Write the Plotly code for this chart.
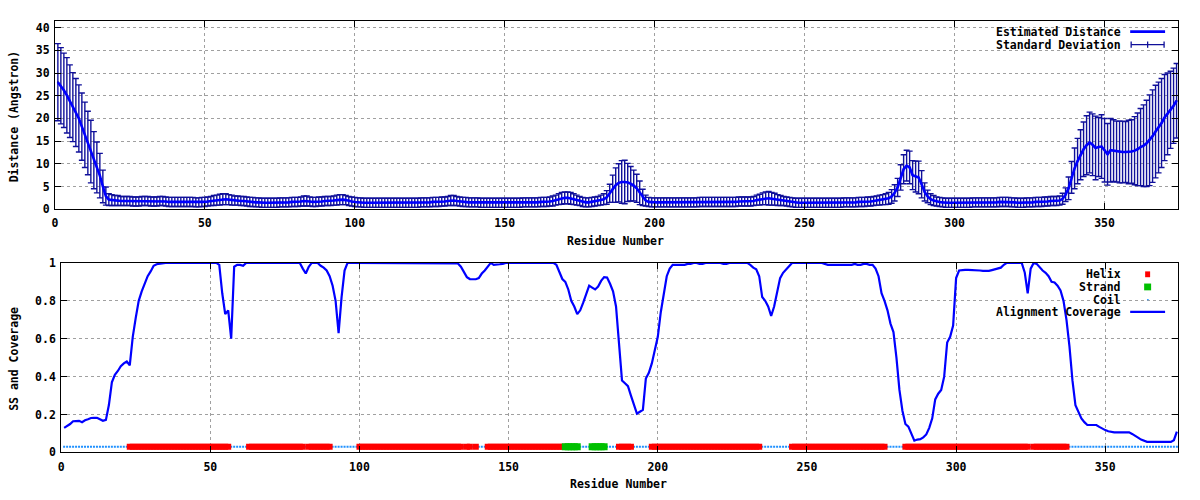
import plotly.graph_objects as go

# ---------------- data ----------------
residues = list(range(1, 375))

distance = [
    28.0, 27.2, 26.2, 25.1, 23.8, 22.5, 21.3, 20.0, 18.2, 16.4,
    14.6, 12.7, 10.8, 9.2, 7.4, 5.0, 2.9, 2.1, 2.0, 1.9,
    1.9, 1.8, 1.8, 1.8, 1.8, 1.7, 1.7, 1.7, 1.8, 1.8,
    1.8, 1.7, 1.7, 1.7, 1.8, 1.8, 1.7, 1.6, 1.6, 1.6,
    1.6, 1.6, 1.6, 1.6, 1.6, 1.6, 1.5, 1.5, 1.6, 1.6,
    1.7, 1.8, 1.9, 2.0, 2.1, 2.2, 2.2, 2.1, 2.0, 1.9,
    1.9, 1.8, 1.8, 1.7, 1.6, 1.6, 1.5, 1.5, 1.4, 1.4,
    1.4, 1.4, 1.4, 1.4, 1.5, 1.5, 1.5, 1.5, 1.6, 1.6,
    1.6, 1.7, 1.8, 1.8, 1.7, 1.6, 1.6, 1.7, 1.7, 1.8,
    1.8, 1.8, 1.9, 2.0, 2.1, 2.1, 2.0, 1.8, 1.7, 1.6,
    1.5, 1.5, 1.4, 1.4, 1.4, 1.4, 1.4, 1.4, 1.4, 1.4,
    1.4, 1.4, 1.4, 1.4, 1.4, 1.4, 1.4, 1.4, 1.4, 1.4,
    1.4, 1.5, 1.5, 1.5, 1.5, 1.6, 1.6, 1.6, 1.7, 1.7,
    1.8, 1.9, 1.9, 1.8, 1.7, 1.6, 1.6, 1.5, 1.5, 1.5,
    1.5, 1.4, 1.4, 1.4, 1.4, 1.4, 1.4, 1.4, 1.4, 1.4,
    1.4, 1.4, 1.4, 1.4, 1.4, 1.5, 1.5, 1.5, 1.5, 1.5,
    1.5, 1.6, 1.6, 1.6, 1.7, 1.8, 2.0, 2.2, 2.4, 2.5,
    2.5, 2.4, 2.2, 2.0, 1.8, 1.6, 1.5, 1.5, 1.6, 1.7,
    1.8, 2.0, 2.2, 2.6, 3.5, 4.5, 5.3, 5.8, 6.0, 6.0,
    5.9, 5.6, 5.2, 4.6, 3.6, 2.6, 1.9, 1.6, 1.5, 1.5,
    1.5, 1.5, 1.5, 1.5, 1.5, 1.5, 1.5, 1.5, 1.5, 1.5,
    1.5, 1.5, 1.5, 1.5, 1.6, 1.6, 1.6, 1.6, 1.6, 1.6,
    1.6, 1.6, 1.6, 1.6, 1.6, 1.6, 1.6, 1.7, 1.7, 1.7,
    1.7, 1.7, 1.8, 2.0, 2.1, 2.3, 2.4, 2.4, 2.3, 2.2,
    2.0, 1.9, 1.8, 1.7, 1.6, 1.5, 1.4, 1.4, 1.4, 1.4,
    1.4, 1.4, 1.4, 1.4, 1.4, 1.4, 1.4, 1.4, 1.4, 1.4,
    1.4, 1.4, 1.5, 1.5, 1.5, 1.5, 1.5, 1.6, 1.6, 1.6,
    1.7, 1.7, 1.8, 1.9, 2.0, 2.1, 2.2, 2.4, 2.8, 3.6,
    4.8, 7.0, 8.8, 9.6, 9.2, 7.5, 7.2, 7.0, 5.5, 3.8,
    2.8, 2.2, 1.9, 1.7, 1.6, 1.5, 1.4, 1.4, 1.4, 1.4,
    1.4, 1.4, 1.4, 1.4, 1.4, 1.5, 1.5, 1.5, 1.5, 1.5,
    1.5, 1.5, 1.5, 1.5, 1.6, 1.6, 1.6, 1.6, 1.5, 1.5,
    1.4, 1.4, 1.4, 1.5, 1.5, 1.5, 1.6, 1.6, 1.6, 1.7,
    1.7, 1.8, 1.8, 1.8, 1.9, 2.3, 3.2, 4.6, 7.0, 9.0,
    10.6, 12.0, 13.2, 14.1, 14.7, 14.2, 13.5, 13.7, 13.8, 13.0,
    12.1, 13.0, 12.9, 12.7, 12.6, 12.6, 12.6, 12.6, 12.7, 12.9,
    13.2, 13.7, 14.0, 14.5, 15.2, 16.1, 17.1, 18.0, 19.0, 20.2,
    21.0, 21.9, 22.8, 23.9,
]

std_dev = [
    8.5, 8.4, 8.2, 8.3, 8.0, 7.6, 7.5, 7.4, 7.4, 7.2,
    7.0, 6.9, 6.3, 5.6, 4.9, 3.6, 2.0, 1.3, 1.2, 1.1,
    1.1, 1.0, 1.0, 1.0, 1.0, 1.0, 1.0, 1.0, 1.0, 1.0,
    1.0, 1.0, 1.0, 1.0, 1.0, 1.0, 1.0, 1.0, 1.0, 1.0,
    1.0, 1.0, 1.0, 1.0, 1.0, 1.0, 1.0, 1.0, 1.0, 1.0,
    1.0, 1.0, 1.1, 1.1, 1.2, 1.2, 1.2, 1.1, 1.1, 1.0,
    1.0, 1.0, 1.0, 1.0, 1.0, 1.0, 1.0, 1.0, 1.0, 1.0,
    1.0, 1.0, 1.0, 1.0, 1.0, 1.0, 1.0, 1.0, 1.0, 1.0,
    1.0, 1.0, 1.1, 1.1, 1.0, 1.0, 1.0, 1.0, 1.0, 1.0,
    1.0, 1.0, 1.0, 1.1, 1.1, 1.1, 1.0, 1.0, 1.0, 1.0,
    1.0, 1.0, 1.0, 1.0, 1.0, 1.0, 1.0, 1.0, 1.0, 1.0,
    1.0, 1.0, 1.0, 1.0, 1.0, 1.0, 1.0, 1.0, 1.0, 1.0,
    1.0, 1.0, 1.0, 1.0, 1.0, 1.0, 1.0, 1.0, 1.0, 1.0,
    1.0, 1.1, 1.1, 1.0, 1.0, 1.0, 1.0, 1.0, 1.0, 1.0,
    1.0, 1.0, 1.0, 1.0, 1.0, 1.0, 1.0, 1.0, 1.0, 1.0,
    1.0, 1.0, 1.0, 1.0, 1.0, 1.0, 1.0, 1.0, 1.0, 1.0,
    1.0, 1.0, 1.0, 1.0, 1.0, 1.1, 1.1, 1.2, 1.3, 1.3,
    1.3, 1.3, 1.2, 1.1, 1.0, 1.0, 1.0, 1.0, 1.0, 1.0,
    1.0, 1.1, 1.2, 1.5, 2.0, 3.0, 3.8, 4.2, 4.7, 4.8,
    4.2, 3.8, 3.4, 3.1, 2.6, 1.8, 1.2, 1.0, 1.0, 1.0,
    1.0, 1.0, 1.0, 1.0, 1.0, 1.0, 1.0, 1.0, 1.0, 1.0,
    1.0, 1.0, 1.0, 1.0, 1.0, 1.0, 1.0, 1.0, 1.0, 1.0,
    1.0, 1.0, 1.0, 1.0, 1.0, 1.0, 1.0, 1.0, 1.0, 1.0,
    1.0, 1.0, 1.0, 1.1, 1.2, 1.3, 1.4, 1.5, 1.4, 1.3,
    1.2, 1.1, 1.0, 1.0, 1.0, 1.0, 1.0, 1.0, 1.0, 1.0,
    1.0, 1.0, 1.0, 1.0, 1.0, 1.0, 1.0, 1.0, 1.0, 1.0,
    1.0, 1.0, 1.0, 1.0, 1.0, 1.0, 1.0, 1.0, 1.0, 1.0,
    1.0, 1.0, 1.0, 1.0, 1.1, 1.1, 1.2, 1.3, 1.5, 1.8,
    2.0, 2.8, 3.2, 3.4, 3.6, 3.2, 3.4, 3.6, 3.0, 2.0,
    1.4, 1.2, 1.1, 1.0, 1.0, 1.0, 1.0, 1.0, 1.0, 1.0,
    1.0, 1.0, 1.0, 1.0, 1.0, 1.0, 1.0, 1.0, 1.0, 1.0,
    1.0, 1.0, 1.0, 1.0, 1.0, 1.0, 1.0, 1.0, 1.0, 1.0,
    1.0, 1.0, 1.0, 1.0, 1.0, 1.0, 1.0, 1.0, 1.0, 1.0,
    1.0, 1.0, 1.0, 1.0, 1.0, 1.2, 1.5, 2.5, 3.5, 4.5,
    5.0, 5.5, 6.0, 6.5, 6.7, 6.8, 7.0, 6.5, 7.0, 7.0,
    6.8, 7.0, 6.8, 6.7, 6.8, 6.8, 6.7, 7.0, 7.0, 7.5,
    8.0, 8.5, 9.0, 9.5, 10.0, 10.2, 10.2, 10.0, 9.8, 9.5,
    9.0, 8.5, 8.3, 8.2,
]

coverage = [
    0.13, 0.14, 0.15, 0.165, 0.167, 0.167, 0.16, 0.17, 0.175, 0.182,
    0.183, 0.183, 0.175, 0.167, 0.172, 0.25, 0.37, 0.41, 0.43, 0.455,
    0.47, 0.48, 0.46, 0.61, 0.71, 0.80, 0.85, 0.895, 0.93, 0.955,
    0.985, 0.993, 0.995, 1.0, 1.0, 1.0, 1.0, 1.0, 1.0, 1.0,
    1.0, 1.0, 1.0, 1.0, 1.0, 1.0, 1.0, 1.0, 1.0, 1.0,
    1.0, 1.0, 0.99, 0.84, 0.73, 0.75, 0.60, 0.98, 0.99, 0.99,
    0.985, 1.0, 1.0, 1.0, 1.0, 1.0, 1.0, 1.0, 1.0, 1.0,
    1.0, 1.0, 1.0, 1.0, 1.0, 1.0, 1.0, 1.0, 1.0, 1.0,
    0.97, 0.944, 0.98, 1.0, 1.0, 1.0, 0.985, 0.975, 0.96, 0.93,
    0.88, 0.80, 0.63, 0.82, 0.96, 1.0, 1.0, 1.0, 1.0, 1.0,
    1.0, 1.0, 1.0, 1.0, 1.0, 1.0, 1.0, 1.0, 1.0, 1.0,
    1.0, 1.0, 1.0, 1.0, 1.0, 1.0, 1.0, 1.0, 1.0, 1.0,
    1.0, 1.0, 1.0, 1.0, 1.0, 1.0, 1.0, 1.0, 1.0, 1.0,
    1.0, 1.0, 0.997, 0.98, 0.95, 0.925, 0.915, 0.914, 0.914, 0.92,
    0.944, 0.96, 0.98, 1.0, 0.99, 0.99, 0.993, 0.995, 1.0, 1.0,
    1.0, 1.0, 1.0, 1.0, 1.0, 1.0, 1.0, 1.0, 1.0, 1.0,
    1.0, 1.0, 1.0, 1.0, 1.0, 0.99, 0.95, 0.915, 0.90, 0.86,
    0.80, 0.77, 0.73, 0.75, 0.79, 0.83, 0.88, 0.87, 0.86, 0.875,
    0.905, 0.925, 0.923, 0.89, 0.85, 0.77, 0.58, 0.38, 0.365, 0.35,
    0.30, 0.25, 0.205, 0.215, 0.225, 0.39, 0.42, 0.47, 0.55, 0.61,
    0.74, 0.84, 0.93, 0.97, 0.99, 0.99, 0.99, 0.99, 0.99, 0.995,
    0.995, 1.0, 1.0, 0.995, 0.995, 1.0, 1.0, 1.0, 1.0, 1.0,
    1.0, 0.995, 0.995, 1.0, 1.0, 1.0, 1.0, 1.0, 1.0, 1.0,
    0.99, 0.975, 0.966, 0.93, 0.82, 0.80, 0.77, 0.72, 0.77, 0.85,
    0.92, 0.948, 0.966, 0.985, 1.0, 1.0, 1.0, 1.0, 1.0, 1.0,
    1.0, 1.0, 1.0, 1.0, 1.0, 0.995, 0.99, 0.99, 0.99, 0.99,
    0.99, 0.99, 0.99, 0.99, 0.99, 0.995, 0.99, 0.99, 0.995, 0.995,
    0.99, 0.99, 0.97, 0.93, 0.84, 0.80, 0.75, 0.68, 0.635, 0.50,
    0.33, 0.22, 0.15, 0.136, 0.10, 0.062, 0.068, 0.07, 0.08, 0.095,
    0.13, 0.18, 0.28, 0.31, 0.33, 0.40, 0.58, 0.61, 0.67, 0.92,
    0.96, 0.963, 0.963, 0.963, 0.963, 0.963, 0.963, 0.96, 0.958, 0.957,
    0.958, 0.962, 0.965, 0.968, 0.975, 0.99, 1.0, 1.0, 1.0, 1.0,
    1.0, 1.0, 0.95, 0.84, 0.97, 1.0, 0.995, 0.975, 0.96, 0.948,
    0.93, 0.90, 0.897, 0.88, 0.855, 0.80, 0.70, 0.56, 0.38, 0.25,
    0.21, 0.18, 0.16, 0.145, 0.145, 0.145, 0.145, 0.135, 0.125, 0.118,
    0.112, 0.107, 0.106, 0.106, 0.106, 0.106, 0.106, 0.106, 0.098, 0.09,
    0.078, 0.068, 0.06, 0.056, 0.056, 0.056, 0.056, 0.056, 0.056, 0.056,
    0.056, 0.056, 0.065, 0.11,
]

helix_segments = [(23, 56), (63, 81), (83, 90), (100, 134), (136, 137), (139, 139),
                  (143, 168), (187, 191), (198, 234), (245, 276), (283, 324), (326, 337)]
strand_segments = [(169, 173), (178, 182)]
ss_level = 0.03

x_tick_values = [0, 50, 100, 150, 200, 250, 300, 350]
top_y_ticks = [0, 5, 10, 15, 20, 25, 30, 35, 40]
bottom_y_ticks = [0, 0.2, 0.4, 0.6, 0.8, 1]

# ---------------- secondary structure per residue ----------------
ss = ["C"] * len(residues)
for a, b in helix_segments:
    for r in range(a, b + 1):
        ss[r - 1] = "H"
for a, b in strand_segments:
    for r in range(a, b + 1):
        ss[r - 1] = "E"
helix_x = [r for r, s in zip(residues, ss) if s == "H"]
strand_x = [r for r, s in zip(residues, ss) if s == "E"]
coil_x = [r for r, s in zip(residues, ss) if s == "C"]

# ---------------- styling ----------------
W, H = 1200, 500
FONT = "DejaVu Sans Mono"
FS = 11.5
BLUE = "#0000ff"
ERR = "#10109a"

def px(x):
    return x / W

def py(y):
    return 1 - y / H

fig = go.Figure()

fig.add_trace(go.Scatter(
    x=residues, y=distance, mode="markers", name="Standard Deviation",
    marker=dict(size=2, color=ERR),
    error_y=dict(type="data", array=std_dev, color=ERR, thickness=1.4, width=3),
    xaxis="x", yaxis="y", showlegend=False, hoverinfo="skip"))
fig.add_trace(go.Scatter(
    x=residues, y=distance, mode="lines", name="Estimated Distance",
    line=dict(color=BLUE, width=2.6), xaxis="x", yaxis="y", showlegend=False))

fig.add_trace(go.Scatter(
    x=coil_x, y=[ss_level] * len(coil_x), mode="markers", name="Coil",
    marker=dict(size=2, color="#1e90ff", symbol="square"),
    xaxis="x2", yaxis="y2", showlegend=False))
fig.add_trace(go.Scatter(
    x=helix_x, y=[ss_level] * len(helix_x), mode="markers", name="Helix",
    marker=dict(size=6, color="#ff0000", symbol="square"),
    xaxis="x2", yaxis="y2", showlegend=False))
fig.add_trace(go.Scatter(
    x=strand_x, y=[ss_level] * len(strand_x), mode="markers", name="Strand",
    marker=dict(size=7, color="#00c000", symbol="square"),
    xaxis="x2", yaxis="y2", showlegend=False))
fig.add_trace(go.Scatter(
    x=residues, y=coverage, mode="lines", name="Alignment Coverage",
    line=dict(color=BLUE, width=2.2), xaxis="x2", yaxis="y2", showlegend=False))

tickfont = dict(family=FONT, size=FS, color="black", weight="bold")
common = dict(showline=True, linecolor="black", linewidth=1, mirror="allticks",
              ticks="inside", ticklen=6, tickcolor="black", tickwidth=1,
              showgrid=True, gridcolor="#a0a0a0", griddash="3px,3px", gridwidth=1,
              zeroline=False, tickfont=tickfont)

fig.update_layout(
    width=W, height=H, margin=dict(l=0, r=0, t=0, b=0),
    paper_bgcolor="white", plot_bgcolor="white",
    font=dict(family=FONT, size=FS, color="black", weight="bold"),
    showlegend=False,
    xaxis=dict(domain=[px(52), px(1178)], range=[0, 374.5], tickvals=x_tick_values,
               anchor="y", ticklabelstandoff=3, **common),
    yaxis=dict(domain=[py(208), py(14.3)], range=[0, 41.5], tickvals=top_y_ticks,
               anchor="x", ticklabelstandoff=2, **common),
    xaxis2=dict(domain=[px(58.3), px(1178.3)], range=[0, 374.5], tickvals=x_tick_values,
                anchor="y2", ticklabelstandoff=4, **common),
    yaxis2=dict(domain=[py(458.3), py(263.3)], range=[0, 1], tickvals=bottom_y_ticks,
                anchor="x2", ticklabelstandoff=2, **common),
)

ann_font = dict(family=FONT, size=FS, color="black", weight="bold")
annotations = [
    dict(text="Residue Number", x=px(614), y=py(240.5), xanchor="center", yanchor="middle"),
    dict(text="Residue Number", x=px(617), y=py(490.5), xanchor="center", yanchor="middle"),
    dict(text="Distance (Angstron)", x=px(10.5), y=py(112), xanchor="center", yanchor="middle", textangle=-90),
    dict(text="SS and Coverage", x=px(11.5), y=py(361.5), xanchor="center", yanchor="middle", textangle=-90),
    dict(text="Estimated Distance", x=px(1123), y=py(26), xanchor="right", yanchor="middle"),
    dict(text="Standard Deviation", x=px(1123), y=py(39), xanchor="right", yanchor="middle"),
    dict(text="Helix", x=px(1123), y=py(275), xanchor="right", yanchor="middle"),
    dict(text="Strand", x=px(1123), y=py(288), xanchor="right", yanchor="middle"),
    dict(text="Coil", x=px(1123), y=py(301), xanchor="right", yanchor="middle"),
    dict(text="Alignment Coverage", x=px(1123), y=py(314), xanchor="right", yanchor="middle"),
]
for a in annotations:
    a.update(xref="paper", yref="paper", showarrow=False, font=ann_font)
fig.update_layout(annotations=annotations)

shapes = [
    # opaque key areas (hide grid under key)
    dict(type="rect", x0=px(995), x1=px(1176), y0=py(46), y1=py(16),
         fillcolor="white", line=dict(width=0), layer="between"),
    dict(type="rect", x0=px(995), x1=px(1176), y0=py(321), y1=py(265),
         fillcolor="white", line=dict(width=0), layer="between"),
    # key samples
    dict(type="line", x0=px(1130), x1=px(1165), y0=py(25.3), y1=py(25.3),
         line=dict(color=BLUE, width=2.6)),
    dict(type="line", x0=px(1131), x1=px(1164), y0=py(38.7), y1=py(38.7),
         line=dict(color=ERR, width=1.3)),
    dict(type="line", x0=px(1131), x1=px(1131), y0=py(35.5), y1=py(42),
         line=dict(color=ERR, width=1.3)),
    dict(type="line", x0=px(1147.5), x1=px(1147.5), y0=py(35.5), y1=py(42),
         line=dict(color=ERR, width=1.3)),
    dict(type="line", x0=px(1164), x1=px(1164), y0=py(35.5), y1=py(42),
         line=dict(color=ERR, width=1.3)),
    dict(type="rect", x0=px(1145), x1=px(1150), y0=py(278), y1=py(272),
         fillcolor="#ff0000", line=dict(width=0)),
    dict(type="rect", x0=px(1144), x1=px(1151), y0=py(291.5), y1=py(284.5),
         fillcolor="#00c000", line=dict(width=0)),
    dict(type="rect", x0=px(1147), x1=px(1148.5), y0=py(301.7), y1=py(300.3),
         fillcolor="#1e90ff", line=dict(width=0)),
    dict(type="line", x0=px(1130), x1=px(1165), y0=py(313.7), y1=py(313.7),
         line=dict(color=BLUE, width=2.2)),
]
for s in shapes:
    s.update(xref="paper", yref="paper")
fig.update_layout(shapes=shapes)

fig.write_html("out.html", config={"displayModeBar": False},
               post_script="document.body.style.margin='0';")
